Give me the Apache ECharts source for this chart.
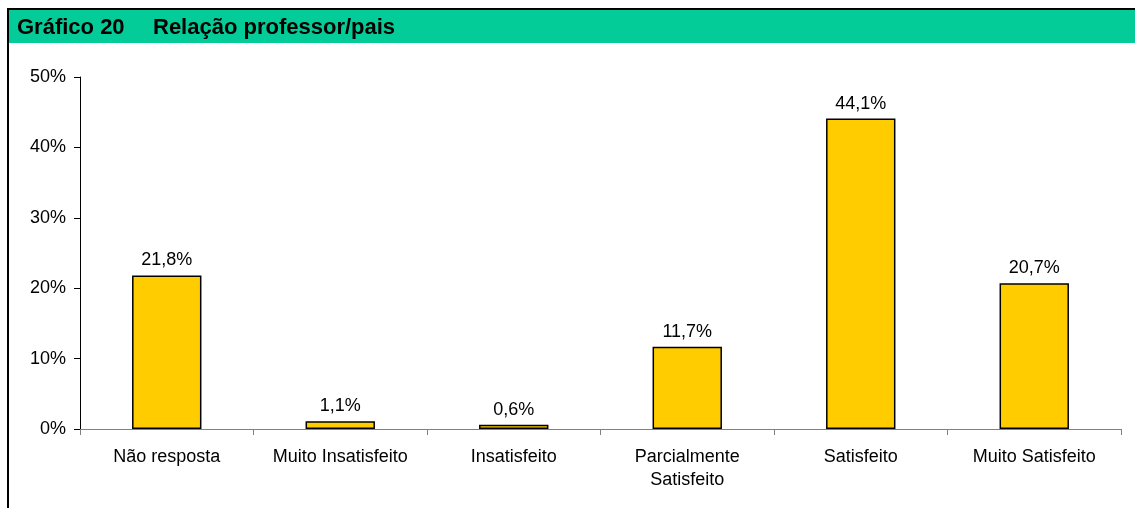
<!DOCTYPE html>
<html>
<head>
<meta charset="utf-8">
<script src="https://cdn.jsdelivr.net/npm/echarts@6/dist/echarts.min.js"></script>
<style>
  html, body { margin: 0; padding: 0; background: #fff; }
  #chart { width: 1135px; height: 508px; }
</style>
</head>
<body>
<div id="chart"></div>
<script>
const categories = ['Não resposta', 'Muito Insatisfeito', 'Insatisfeito', 'Parcialmente\nSatisfeito', 'Satisfeito', 'Muito Satisfeito'];
const values = [21.8, 1.1, 0.6, 11.7, 44.1, 20.7];
const yTicks = [0, 10, 20, 30, 40, 50];

const chart = echarts.init(document.getElementById('chart'));

const option = {
  animation: false,
  textStyle: { fontFamily: 'Liberation Sans, Arial, sans-serif' },
  graphic: [
    // faixa verde do cabeçalho
    { type: 'rect', shape: { x: 8, y: 9, width: 1127, height: 34 }, style: { fill: '#03CC99' } },
    { type: 'line', shape: { x1: 8, y1: 9, x2: 1135, y2: 9 }, style: { stroke: '#000', lineWidth: 2 } },
    { type: 'line', shape: { x1: 8, y1: 8, x2: 8, y2: 508 }, style: { stroke: '#000', lineWidth: 2 } },
    { type: 'text', left: 17, top: 17, style: { text: 'Gráfico 20', font: 'bold 22px "Liberation Sans", Arial, sans-serif', fill: '#000' } },
    { type: 'text', left: 153, top: 17, style: { text: 'Relação professor/pais', font: 'bold 22px "Liberation Sans", Arial, sans-serif', fill: '#000' } }
  ],
  grid: { left: 80, right: 14, top: 77, bottom: 79, containLabel: false },
  xAxis: {
    type: 'category',
    data: categories,
    axisLine: { lineStyle: { color: '#808080', width: 1 } },
    axisTick: { show: true, alignWithLabel: false, length: 6, lineStyle: { color: '#808080' } },
    axisLabel: { color: '#000', fontSize: 18, margin: 17, lineHeight: 23, interval: 0 }
  },
  yAxis: {
    type: 'value',
    min: 0,
    max: 50,
    interval: 10,
    splitLine: { show: false },
    axisLine: { show: true, lineStyle: { color: '#000', width: 1 } },
    axisTick: { show: true, length: 6, lineStyle: { color: '#000' } },
    axisLabel: {
      color: '#000', fontSize: 18, margin: 14,
      formatter: v => (yTicks.includes(v) ? v + '%' : '')
    }
  },
  series: [{
    type: 'bar',
    data: values,
    barWidth: '40%',
    itemStyle: { color: '#FFCC00', borderColor: '#000', borderWidth: 1.5 },
    label: {
      show: true,
      position: 'top',
      distance: 6,
      color: '#000',
      fontSize: 18,
      formatter: p => p.value.toFixed(1).replace('.', ',') + '%'
    }
  }]
};

chart.setOption(option);
</script>
</body>
</html>
